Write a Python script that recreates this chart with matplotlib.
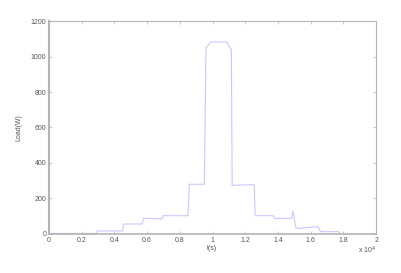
import matplotlib
matplotlib.use("Agg")
import matplotlib.pyplot as plt
from matplotlib.ticker import FuncFormatter

plt.rcParams['font.family'] = ['Liberation Sans', 'DejaVu Sans']

t_s = [0, 2900, 2950, 4500, 4550, 5700, 5780, 6800, 6900, 7000, 8500, 8580,
       9500, 9600, 9700, 9890, 10870, 11050, 11150, 11200, 12450, 12550, 12600,
       13700, 13800, 14850, 14900, 14950, 15100, 15300, 16000, 16450, 16600,
       17700, 17800]
load_w = [3, 3, 17, 17, 56, 56, 88, 86, 83, 103, 103, 280,
          280, 1050, 1060, 1082, 1082, 1050, 1040, 274, 278, 275, 103,
          103, 88, 88, 130, 110, 35, 30, 38, 41, 13,
          13, 2]
xticks = [0, 2000, 4000, 6000, 8000, 10000, 12000, 14000, 16000, 18000, 20000]
yticks = [0, 200, 400, 600, 800, 1000, 1200]

fig = plt.figure(figsize=(4.01, 2.73), dpi=100)
ax = fig.add_axes([0.122, 0.143, 0.816, 0.780])
ax.plot(t_s, load_w, color='#c8c8ff', lw=0.8)
ax.set_xlim(0, 20000)
ax.set_ylim(0, 1200)
ax.set_xticks(xticks)
ax.set_yticks(yticks)
ax.xaxis.set_major_formatter(FuncFormatter(lambda v, p: ('%g' % (v / 1e4))))
gray = '#555555'
for s in ax.spines.values():
    s.set_color('#b4b4b4')
    s.set_linewidth(0.8)
ax.spines['left'].set_linewidth(1.5)
ax.spines['bottom'].set_linewidth(1.2)
ax.tick_params(direction='in', length=2.5, width=0.5, colors='#b4b4b4',
               labelcolor=gray, labelsize=5, pad=2, top=True, right=True)
ax.set_xlabel('t(s)', fontsize=5, color=gray, labelpad=1)
ax.set_ylabel('Load(W)', fontsize=5, color=gray, labelpad=6)
fig.text(0.893, 0.073, r'x 10$^4$', fontsize=5, color=gray, ha='left')
fig.savefig('out.png', dpi=100)
